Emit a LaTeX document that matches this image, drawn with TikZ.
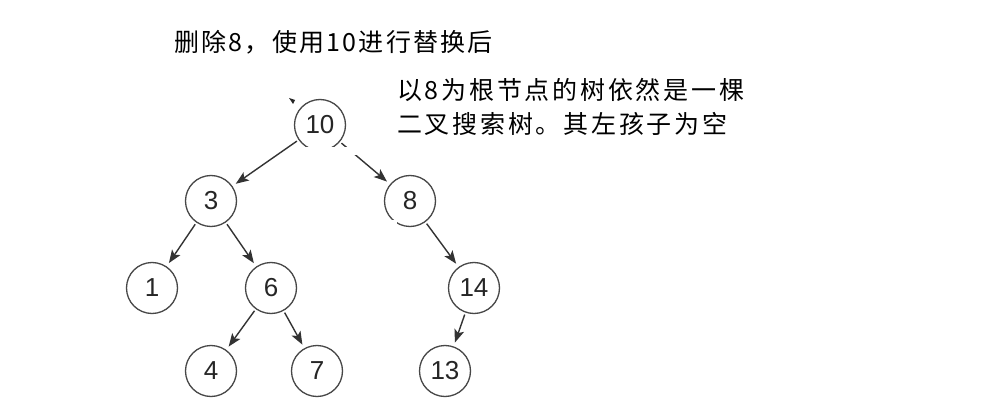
\documentclass[tikz,border=0pt]{standalone}
\usepackage{fontspec}
\setmainfont{Liberation Sans}
\newfontfamily\cjkfont[LetterSpace=9]{Noto Sans CJK SC}
\newfontfamily\cjkfontb[LetterSpace=11]{Noto Sans CJK SC}
\usetikzlibrary{arrows.meta}
\begin{document}
\begin{tikzpicture}[x=1pt,y=-1pt,
  tnode/.style={circle,draw=black!72,line width=1.3pt,minimum size=51pt,inner sep=0pt,
    font=\fontsize{26}{26}\selectfont,text=black!85},
  edge/.style={draw=black!80,line width=1.4pt,shorten <=2pt,shorten >=4pt,
    -{Stealth[length=13pt,width=10pt,inset=3pt]}},
  note/.style={anchor=west,inner sep=0pt,text=black}]
\fill[white] (0,0) rectangle (989,409);
\useasboundingbox (0,0) rectangle (989,409);

\node[note,font=\cjkfont\fontsize{25}{25}\selectfont] (title) at (174,42) {删除8，使用10进行替换后};
\node[note,font=\cjkfontb\fontsize{25}{25}\selectfont] (l1) at (397,90) {以8为根节点的树依然是一棵};
\node[note,font=\cjkfontb\fontsize{25}{25}\selectfont] (l2) at (397,124) {二叉搜索树。其左孩子为空};

\node[tnode] (n10) at (320,125) {10};
\node[tnode] (n3) at (211,201) {3};
\node[tnode] (n8) at (410,201) {8};
\node[tnode] (n1) at (152,288) {1};
\node[tnode] (n6) at (271,288) {6};
\node[tnode] (n14) at (474,288) {14};
\node[tnode] (n4) at (211,371) {4};
\node[tnode] (n7) at (317,371) {7};
\node[tnode] (n13) at (445,371) {13};

\draw[edge] (n10) -- (n3);
\draw[edge] (n10) -- (n8);
\draw[edge] (n3) -- (n1);
\draw[edge] (n3) -- (n6);
\draw[edge] (n8) -- (n14);
\draw[edge] (n6) -- (n4);
\draw[edge] (n6) -- (n7);
\draw[edge] (n14) -- (n13);

% editing artefacts of the original picture
\fill[white] (293,147) rectangle (357,155);
\fill[white] (386,220) rectangle (397,230);
\fill[black!85] (289,98) -- (295,100) -- (293,104) -- cycle;
\end{tikzpicture}
\end{document}
